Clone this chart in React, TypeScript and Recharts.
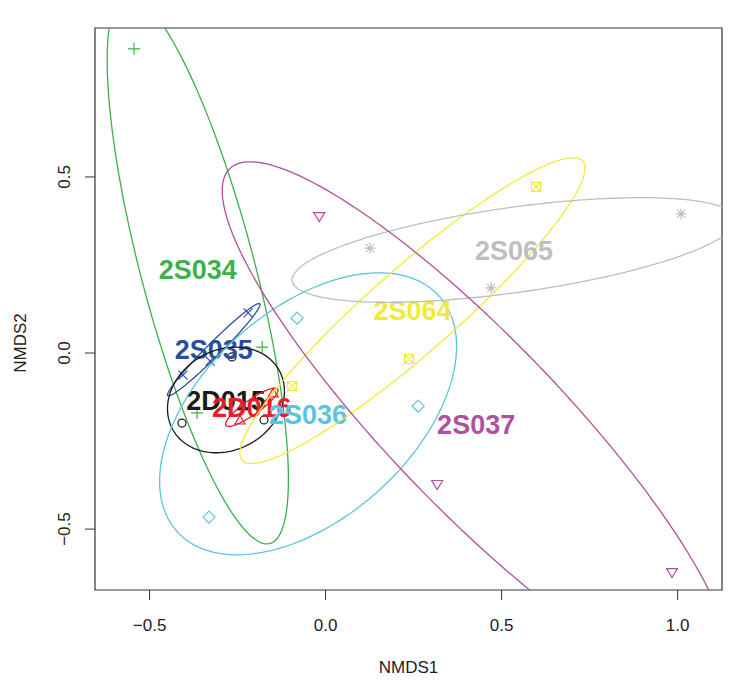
import { ReferenceArea, Scatter, ScatterChart, XAxis, YAxis } from 'recharts';

// NMDS site scores, one row per site
const siteGroup = [
  '2S034', '2S034', '2S034',
  '2S035', '2S035', '2S035',
  '2D015', '2D015', '2D015',
  '2D016', '2D016', '2D016',
  '2S036', '2S036', '2S036',
  '2S064', '2S064', '2S064',
  '2S065', '2S065', '2S065',
  '2S037', '2S037', '2S037',
];
const nmds1 = [
  -0.544, -0.18, -0.365,
  -0.22, -0.328, -0.405,
  -0.266, -0.408, -0.175,
  -0.243, -0.149, -0.237,
  -0.081, 0.263, -0.331,
  0.598, 0.237, -0.095,
  0.126, 0.47, 1.01,
  -0.018, 0.317, 0.984,
];
const nmds2 = [
  0.864, 0.017, -0.17,
  0.114, -0.023, -0.063,
  -0.011, -0.199, -0.19,
  -0.193, -0.116, -0.153,
  0.099, -0.151, -0.466,
  0.472, -0.017, -0.094,
  0.298, 0.185, 0.395,
  0.389, -0.372, -0.622,
];

const groupNames = ['2S034', '2S035', '2D015', '2D016', '2S036', '2S064', '2S065', '2S037'];
const groupColors = ['#3DB049', '#2B4E9C', '#1A1A1A', '#E3202A', '#5EC3DC', '#F2EA3A', '#BEBEBE', '#B0509E'];
const groupPch = ['plus', 'cross', 'circle', 'triUp', 'diamond', 'boxX', 'star', 'triDown'];

const X_TICKS = [-0.5, 0, 0.5, 1];
const Y_TICKS = [-0.5, 0, 0.5];
const X_DOMAIN = [-0.655, 1.126];
const Y_DOMAIN = [-0.673, 0.923];

const FONT = '"Liberation Sans", Arial, Helvetica, sans-serif';
const ELLIPSE_SCALE = Math.SQRT2;

const groups = groupNames.map((name, g) => {
  const pts = siteGroup
    .map((s, i) => ({ s, x: nmds1[i], y: nmds2[i] }))
    .filter((p) => p.s === name)
    .map(({ x, y }) => ({ x, y }));
  const n = pts.length;
  const mx = pts.reduce((a, p) => a + p.x, 0) / n;
  const my = pts.reduce((a, p) => a + p.y, 0) / n;
  let sxx = 0, syy = 0, sxy = 0;
  pts.forEach((p) => {
    sxx += (p.x - mx) ** 2;
    syy += (p.y - my) ** 2;
    sxy += (p.x - mx) * (p.y - my);
  });
  sxx /= n - 1; syy /= n - 1; sxy /= n - 1;
  // covariance ellipse via cholesky
  const l11 = Math.sqrt(sxx);
  const l21 = sxy / l11;
  const l22 = Math.sqrt(Math.max(0, syy - l21 * l21));
  const ellipse = [];
  for (let k = 0; k <= 180; k++) {
    const t = (k / 180) * 2 * Math.PI;
    ellipse.push({
      x: mx + ELLIPSE_SCALE * l11 * Math.cos(t),
      y: my + ELLIPSE_SCALE * (l21 * Math.cos(t) + l22 * Math.sin(t)),
    });
  }
  return { name, color: groupColors[g], pch: groupPch[g], pts, centre: [{ x: mx, y: my }], ellipse };
});

const makeMarker = (pch: string, color: string) => (props: any) => {
  const { cx, cy } = props;
  const common = { stroke: color, strokeWidth: 1.2, fill: 'none' };
  switch (pch) {
    case 'plus':
      return <path d={`M${cx - 6},${cy}H${cx + 6}M${cx},${cy - 6}V${cy + 6}`} {...common} />;
    case 'cross':
      return <path d={`M${cx - 4.5},${cy - 4.5}L${cx + 4.5},${cy + 4.5}M${cx - 4.5},${cy + 4.5}L${cx + 4.5},${cy - 4.5}`} {...common} />;
    case 'circle':
      return <circle cx={cx} cy={cy} r={4} {...common} />;
    case 'triUp':
      return <path d={`M${cx},${cy - 5.5}L${cx + 5},${cy + 3}L${cx - 5},${cy + 3}Z`} {...common} />;
    case 'diamond':
      return <path d={`M${cx},${cy - 6}L${cx + 6},${cy}L${cx},${cy + 6}L${cx - 6},${cy}Z`} {...common} />;
    case 'boxX':
      return <path d={`M${cx - 4.5},${cy - 4.5}H${cx + 4.5}V${cy + 4.5}H${cx - 4.5}ZM${cx - 4.5},${cy - 4.5}L${cx + 4.5},${cy + 4.5}M${cx - 4.5},${cy + 4.5}L${cx + 4.5},${cy - 4.5}`} {...common} />;
    case 'star':
      return <path d={`M${cx - 5.5},${cy}H${cx + 5.5}M${cx},${cy - 5.5}V${cy + 5.5}M${cx - 4},${cy - 4}L${cx + 4},${cy + 4}M${cx - 4},${cy + 4}L${cx + 4},${cy - 4}`} {...common} />;
    default:
      return <path d={`M${cx - 5.5},${cy - 3.5}L${cx + 5.5},${cy - 3.5}L${cx},${cy + 5.5}Z`} {...common} />;
  }
};

const fmt = (v: number) => v.toFixed(1).replace('-', '\u2212');

const XTick = (props: any) => (
  <text x={props.x} y={623} textAnchor="middle" fontFamily={FONT} fontSize={17} fill="#222">
    {fmt(props.payload.value)}
  </text>
);

const YTick = (props: any) => (
  <text
    x={62}
    y={props.y}
    transform={`rotate(-90 62 ${props.y})`}
    textAnchor="middle"
    fontFamily={FONT}
    fontSize={17}
    fill="#222"
  >
    {fmt(props.payload.value)}
  </text>
);

const none = () => <g />;

export default function App() {
  return (
    <div style={{ position: 'relative', width: 741, height: 682, background: '#fff' }}>
      <ScatterChart width={741} height={682} margin={{ top: 20, right: 27, bottom: 0, left: 0 }}>
        <XAxis
          type="number"
          dataKey="x"
          domain={X_DOMAIN}
          allowDataOverflow
          ticks={X_TICKS}
          tick={XTick}
          tickSize={10}
          tickLine={{ stroke: '#333' }}
          axisLine={false}
          height={100}
        />
        <YAxis
          type="number"
          dataKey="y"
          domain={Y_DOMAIN}
          allowDataOverflow
          ticks={Y_TICKS}
          tick={YTick}
          tickSize={10}
          tickLine={{ stroke: '#333' }}
          axisLine={false}
          width={87}
        />
        <ReferenceArea
          x1={X_DOMAIN[0]}
          x2={X_DOMAIN[1]}
          y1={Y_DOMAIN[0]}
          y2={Y_DOMAIN[1]}
          fill="none"
          stroke="#333"
          strokeWidth={1.2}
        />
        {groups.map((g) => (
          <Scatter
            key={`pts-${g.name}`}
            data={g.pts}
            shape={makeMarker(g.pch, g.color)}
            isAnimationActive={false}
          />
        ))}
        {groups.flatMap((g) => [
          <Scatter
            key={`ell-${g.name}`}
            data={g.ellipse}
            line={{ stroke: g.color, strokeWidth: 1.3 }}
            shape={none}
            isAnimationActive={false}
          />,
          <Scatter
            key={`lab-${g.name}`}
            data={g.centre}
            isAnimationActive={false}
            shape={(p: any) => (
              <text
                x={p.cx}
                y={p.cy}
                dy={9.7}
                textAnchor="middle"
                fontFamily={FONT}
                fontWeight="bold"
                fontSize={27}
                fill={g.color}
              >
                {g.name}
              </text>
            )}
          />,
        ])}
      </ScatterChart>
      <div
        style={{
          position: 'absolute', left: 400.5, top: 660, transform: 'translate(-50%, -50%)',
          fontFamily: FONT, fontSize: 17, color: '#222', whiteSpace: 'nowrap',
        }}
      >
        NMDS1
      </div>
      <div
        style={{
          position: 'absolute', left: 13, top: 335, transform: 'translate(-50%, -50%) rotate(-90deg)',
          fontFamily: FONT, fontSize: 17, color: '#222', whiteSpace: 'nowrap',
        }}
      >
        NMDS2
      </div>
    </div>
  );
}
